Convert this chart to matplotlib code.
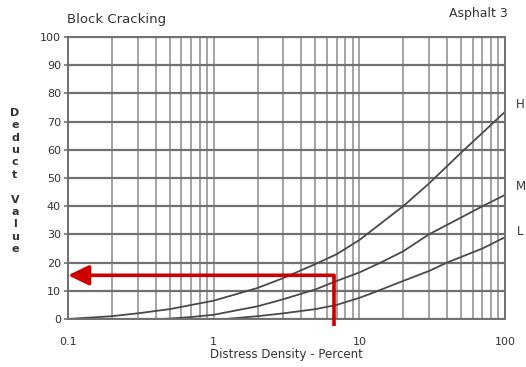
import matplotlib
matplotlib.use("Agg")
import matplotlib.pyplot as plt
import numpy as np

# curve readings (distress density %, deduct value)
x_h = [0.1, 0.2, 0.3, 0.5, 1, 2, 3, 5, 7, 10, 20, 30, 50, 70, 100]
y_h = [0, 1, 2, 3.5, 6.5, 11, 14.5, 19.5, 23, 28, 40, 48, 59, 66, 73.5]
x_m = [0.45, 0.7, 1, 2, 3, 5, 7, 10, 14, 20, 30, 50, 70, 100]
y_m = [0, 0.7, 1.5, 4.5, 7, 10.5, 13.5, 16.5, 20, 24, 30, 36, 40, 44]
x_l = [1.2, 2, 3, 5, 7, 10, 12, 20, 30, 40, 70, 100]
y_l = [0, 1, 2, 3.5, 5, 7.5, 9, 13.5, 17, 20, 25, 29]
curve_names = ["H", "M", "L"]
label_y = [76, 47, 31]

# red reading arrow
arrow_x = 6.7
arrow_y = 15.5

y_ticks = [0, 10, 20, 30, 40, 50, 60, 70, 80, 90, 100]
x_ticks = [0.1, 1, 10, 100]
x_tick_labels = ["0.1", "1", "10", "100"]

fig = plt.figure(figsize=(5.26, 3.67), dpi=100)
ax = fig.add_axes([68 / 526, 1 - 319 / 367, 437 / 526, 282 / 367])

grid_col = "#707070"
ink = "#4a4a4a"

# vertical log grid
for dec in [0.1, 1, 10]:
    for k in range(1, 10):
        ax.axvline(dec * k, color="#959595", lw=1.2, zorder=1)
ax.axvline(100, color="#959595", lw=1.2, zorder=1)
for yv in y_ticks:
    ax.axhline(yv, color=grid_col, lw=1.6, zorder=1)

ax.plot(x_h, y_h, color=ink, lw=1.3, zorder=2)
ax.plot(x_m, y_m, color=ink, lw=1.3, zorder=2)
ax.plot(x_l, y_l, color=ink, lw=1.3, zorder=2)

for name, yv in zip(curve_names, label_y):
    ax.text(128, yv, name, fontsize=8.5, color="#333333", ha="center", va="center", clip_on=False)

red = "#cc0000"
ax.plot([arrow_x, arrow_x], [-2.5, arrow_y], color=red, lw=2.6, clip_on=False, zorder=5,
        solid_capstyle="butt")
ax.annotate("", xy=(0.1, arrow_y), xytext=(arrow_x, arrow_y),
            arrowprops=dict(arrowstyle="-|>,head_length=1.25,head_width=0.6", mutation_scale=10,
                            color=red, lw=2.6, shrinkA=0, shrinkB=0), zorder=5)

ax.set_xscale("log")
ax.set_xlim(0.1, 100)
ax.set_ylim(0, 100)
ax.set_xticks(x_ticks)
ax.set_xticklabels(x_tick_labels)
ax.xaxis.set_minor_locator(matplotlib.ticker.NullLocator())
ax.set_yticks(y_ticks)
ax.tick_params(axis="x", length=0, pad=13, labelsize=8, labelcolor="#333333")
ax.tick_params(axis="y", length=3, color=grid_col, width=1.2, pad=2, labelsize=8, labelcolor="#333333")
for sp in ax.spines.values():
    sp.set_color(grid_col)
    sp.set_linewidth(1.4)

ax.set_xlabel("Distress Density - Percent", fontsize=8.5, color="#333333", labelpad=1)
fig.text(15 / 526, 1 - 181 / 367, "\n".join("Deduct Value"), fontsize=8, color="#333333",
         ha="center", va="center", linespacing=1.3, fontweight="bold")

fig.text(67 / 526, 1 - 19 / 367, "Block Cracking", fontsize=9.5, color="#333333", va="center")
fig.text(508 / 526, 1 - 14 / 367, "Asphalt 3", fontsize=9, color="#333333", va="center", ha="right")

fig.savefig("out.png", dpi=100)
